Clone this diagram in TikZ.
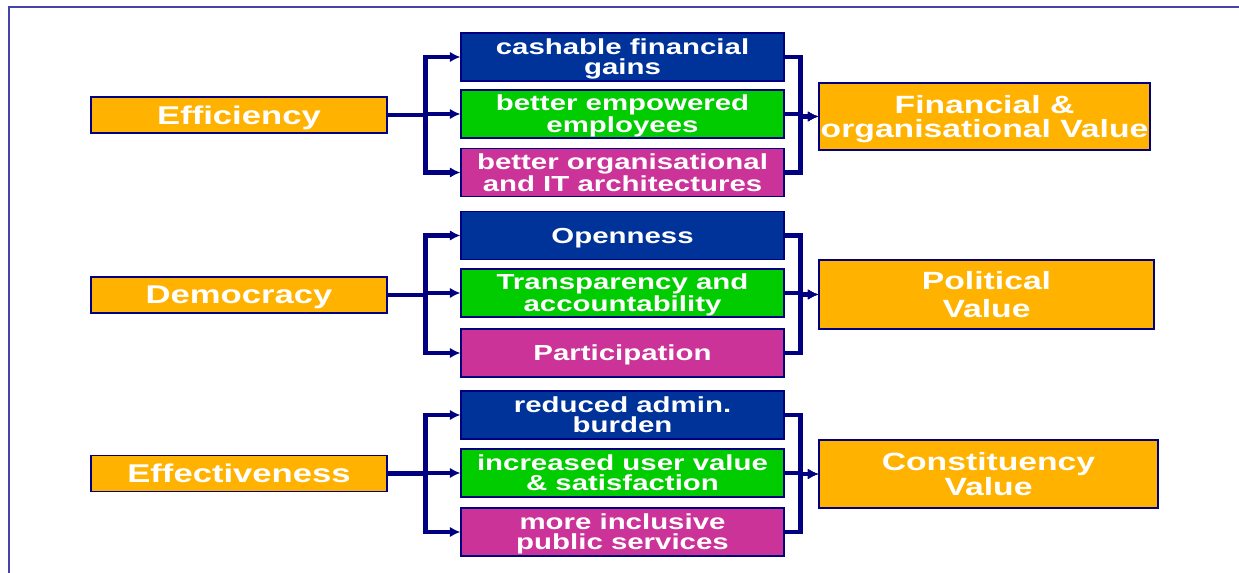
\documentclass[tikz,border=0pt]{standalone}
\usepackage{fontspec}
\newfontfamily\boxfont{Liberation Sans}[FakeStretch=1.35]
\usetikzlibrary{arrows.meta}
\definecolor{amber}{HTML}{FFB300}
\definecolor{royalblue}{HTML}{003399}
\definecolor{leafgreen}{HTML}{00CC00}
\definecolor{plum}{HTML}{CC3399}
\definecolor{navyline}{HTML}{000080}
\definecolor{frameblue}{HTML}{4444AA}

\tikzset{
  box/.style={rectangle, draw=navyline, line width=0.7pt, text=white, align=center, inner sep=0pt},
  aim/.style={box, fill=amber, minimum width=5.92cm, minimum height=0.72cm, text depth=0pt, font=\boxfont\bfseries\fontsize{14.6}{16}\selectfont},
  gain/.style={box, minimum width=6.46cm, minimum height=0.96cm, text depth=-4pt, font=\boxfont\bfseries\fontsize{12.4}{11.4}\selectfont},
  worth/.style={box, fill=amber, minimum height=1.36cm, text depth=-1pt, font=\boxfont\bfseries\fontsize{14.2}{14}\selectfont},
  link/.style={navyline, line width=2.6pt, -{Latex[length=6pt,width=6pt]}}
}

\begin{document}
\begin{tikzpicture}[x=0.02cm, y=-0.02cm]
\useasboundingbox (0,0) rectangle (1239,573);
\draw[frameblue, line width=0.9pt] (1239,7) -- (9,7) -- (9,573);

% left column
\node[aim] (efficiency) at (239,115) {Efficiency};
\node[aim] (democracy) at (239,295) {Democracy};
\node[aim] (effective) at (239,473.5) {Effectiveness};

% middle column
\node[gain, fill=royalblue] (cashable) at (622.5,57) {cashable financial\\gains};
\node[gain, fill=leafgreen] (empowered) at (622.5,114) {better empowered\\employees};
\node[gain, fill=plum] (architect) at (622.5,172.5) {better organisational\\and IT architectures};
\node[gain, fill=royalblue] (openness) at (622.5,235.5) {Openness};
\node[gain, fill=leafgreen] (transparency) at (622.5,293) {Transparency and\\accountability};
\node[gain, fill=plum] (participation) at (622.5,353) {Participation};
\node[gain, fill=royalblue] (adminburden) at (622.5,415) {reduced admin.\\burden};
\node[gain, fill=leafgreen] (uservalue) at (622.5,473) {increased user value\\\& satisfaction};
\node[gain, fill=plum] (inclusive) at (622.5,532) {more inclusive\\public services};

% right column
\node[worth, minimum width=6.62cm, minimum height=1.34cm] (financial) at (984.5,116.5) {Financial \&\\organisational Value};
\node[worth, minimum width=6.7cm, minimum height=1.38cm] (political) at (986.5,294.5) {Political\\[2pt]Value};
\node[worth, minimum width=6.78cm] (constituency) at (988.5,474) {Constituency\\Value};

\draw[link] (efficiency.east) -- ++(38,0) |- (cashable.west);
\draw[link] (efficiency.east) -- ++(38,0) |- (empowered.west);
\draw[link] (efficiency.east) -- ++(38,0) |- (architect.west);
\draw[link] (democracy.east) -- ++(38,0) |- (openness.west);
\draw[link] (democracy.east) -- ++(38,0) |- (transparency.west);
\draw[link] (democracy.east) -- ++(38,0) |- (participation.west);
\draw[link] (effective.east) -- ++(38,0) |- (adminburden.west);
\draw[link] (effective.east) -- ++(38,0) |- (uservalue.west);
\draw[link] (effective.east) -- ++(38,0) |- (inclusive.west);

\draw[link] (cashable.east) -- ++(16,0) |- (financial.west);
\draw[link] (empowered.east) -- ++(16,0) |- (financial.west);
\draw[link] (architect.east) -- ++(16,0) |- (financial.west);
\draw[link] (openness.east) -- ++(16,0) |- (political.west);
\draw[link] (transparency.east) -- ++(16,0) |- (political.west);
\draw[link] (participation.east) -- ++(16,0) |- (political.west);
\draw[link] (adminburden.east) -- ++(16,0) |- (constituency.west);
\draw[link] (uservalue.east) -- ++(16,0) |- (constituency.west);
\draw[link] (inclusive.east) -- ++(16,0) |- (constituency.west);
\end{tikzpicture}
\end{document}
